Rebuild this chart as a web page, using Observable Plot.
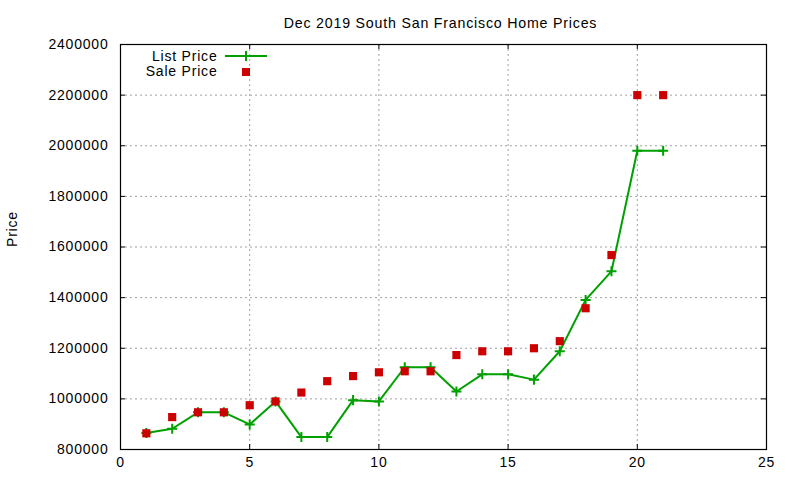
<!DOCTYPE html>
<html>
<head>
<meta charset="utf-8">
<script src="https://cdn.jsdelivr.net/npm/d3@7"></script>
<script src="https://cdn.jsdelivr.net/npm/@observablehq/plot@0.6"></script>
<style>
  body { margin: 0; background: #fff; }
  #wrap { position: relative; width: 800px; height: 480px; font-family: "Liberation Sans", Arial, sans-serif; }
  #legend { position: absolute; left: 0; top: 0; width: 800px; height: 480px; pointer-events: none; }
</style>
</head>
<body>
<div id="wrap"></div>
<script>
// ---- data ----
const title = "Dec 2019 South San Francisco Home Prices";
const yLabel = "Price";
const seriesNames = ["List Price", "Sale Price"];
const idx = [1,2,3,4,5,6,7,8,9,10,11,12,13,14,15,16,17,18,19,20,21];
const listPrice = [865000,882000,947000,947000,899000,990000,849000,849000,995000,990000,1125000,1125000,1029000,1097000,1097000,1076000,1188000,1391000,1504000,1980000,1980000];
const salePrice = [864000,928000,947000,947000,975000,990000,1025000,1070000,1090000,1105000,1109000,1109000,1173000,1188000,1188000,1200000,1228000,1358000,1568000,2200000,2200000];
const xTicks = [0,5,10,15,20,25];
const yTicks = [800000,1000000,1200000,1400000,1600000,1800000,2000000,2200000,2400000];

const listData = idx.map((x, i) => ({x, y: listPrice[i]}));
const saleData = idx.map((x, i) => ({x, y: salePrice[i]}));

const W = 800, H = 480, mL = 120, mR = 34, mT = 44, mB = 31;
const pw = W - mL - mR, ph = H - mT - mB;
const green = "#00a000", red = "#cc0000";
const font = "\"Liberation Sans\", Arial, sans-serif";

const chart = Plot.plot({
  width: W, height: H,
  marginLeft: mL, marginRight: mR, marginTop: mT, marginBottom: mB,
  style: {fontFamily: font, fontSize: "14px", background: "white", color: "black", letterSpacing: "0.8px"},
  x: {domain: [0, 25], ticks: xTicks},
  y: {domain: [800000, 2400000], ticks: yTicks},
  marks: [
    Plot.gridX(xTicks, {stroke: "#a0a0a0", strokeOpacity: 1, strokeDasharray: "2,3", strokeWidth: 1}),
    Plot.gridY(yTicks, {stroke: "#a0a0a0", strokeOpacity: 1, strokeDasharray: "2,3", strokeWidth: 1}),
    // inward ticks (mirrored)
    Plot.ruleX(xTicks, {insetTop: ph - 5, stroke: "black"}),
    Plot.ruleX(xTicks, {insetBottom: ph - 5, stroke: "black"}),
    Plot.ruleY(yTicks, {insetRight: pw - 5, stroke: "black"}),
    Plot.ruleY(yTicks, {insetLeft: pw - 5, stroke: "black"}),
    Plot.axisX(xTicks, {tickSize: 0, tickPadding: 8, label: null, fontSize: 14}),
    Plot.axisY(yTicks, {tickSize: 0, tickPadding: 12, tickFormat: d3.format("d"), label: null, fontSize: 14}),
    Plot.frame({stroke: "black", strokeWidth: 1.2}),
    Plot.line(listData, {x: "x", y: "y", stroke: green, strokeWidth: 2}),
    Plot.dot(listData, {x: "x", y: "y", symbol: "plus", r: 3.33, stroke: green, strokeWidth: 2}),
    Plot.dot(saleData, {x: "x", y: "y", symbol: "square", r: 4.6, fill: red, stroke: "none"}),
    Plot.text([title], {frameAnchor: "top", lineAnchor: "middle", dy: -21, dx: -3, fontSize: 14.2}),
    Plot.text([yLabel], {frameAnchor: "left", lineAnchor: "middle", dx: -108, rotate: -90, fontSize: 14}),
    // legend labels
    Plot.text([seriesNames[0]], {frameAnchor: "top-left", lineAnchor: "middle", dx: 97, dy: 12, textAnchor: "end", fontSize: 14}),
    Plot.text([seriesNames[1]], {frameAnchor: "top-left", lineAnchor: "middle", dx: 97, dy: 27, textAnchor: "end", fontSize: 14})
  ]
});
document.getElementById("wrap").appendChild(chart);

// legend samples (overlay)
const leg = d3.select("#wrap").append("svg").attr("id", "legend").attr("width", W).attr("height", H);
const lx1 = 225, lx2 = 267, lxm = 246, ly1 = 56, ly2 = 72;
leg.append("line").attr("x1", lx1).attr("x2", lx2).attr("y1", ly1).attr("y2", ly1).attr("stroke", green).attr("stroke-width", 2);
leg.append("path").attr("d", `M${lxm-5},${ly1}H${lxm+5}M${lxm},${ly1-5}V${ly1+5}`).attr("stroke", green).attr("stroke-width", 2);
leg.append("rect").attr("x", lxm - 4).attr("y", ly2 - 4).attr("width", 8).attr("height", 8).attr("fill", red);
</script>
</body>
</html>
